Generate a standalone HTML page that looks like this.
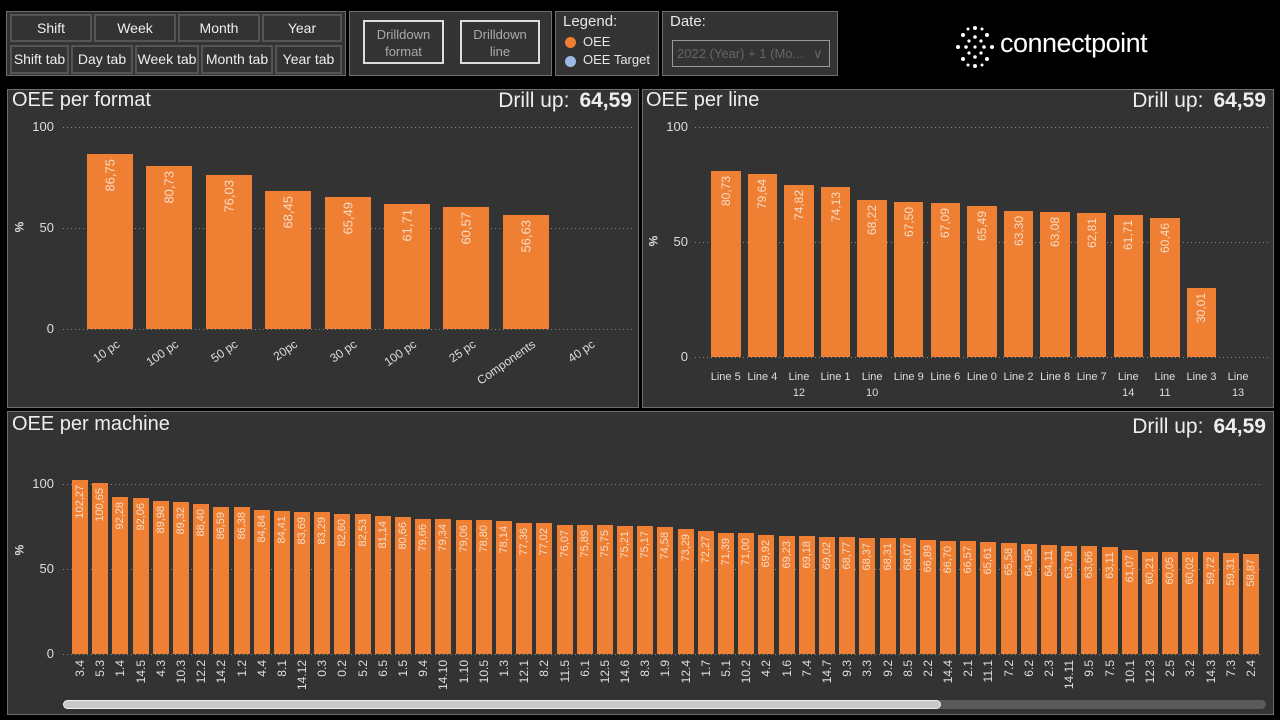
<!DOCTYPE html>
<html><head><meta charset="utf-8">
<style>
*{box-sizing:border-box;margin:0;padding:0}
body{width:1280px;height:720px;background:#000;position:relative;overflow:hidden;font-family:"Liberation Sans Narrow","Liberation Sans",sans-serif;color:#e6e6e6}
.abs{position:absolute}
.panel{position:absolute;background:#333;border:1px solid #6e6e6e}
.btn{position:absolute;background:#333;border:2px solid #555;font-size:14px;color:#eee;text-align:center;line-height:24px}
.dd{position:absolute;border:2px solid #ddd;font-size:13px;color:#aaa;text-align:center;line-height:17px;padding-top:4px}
.title{position:absolute;font-size:20px;color:#eee;white-space:nowrap}
.drill{position:absolute;font-size:21px;color:#eee;white-space:nowrap;text-align:right}
.drill b{font-weight:bold;margin-left:10px}
.grid{position:absolute;height:1px;background-image:linear-gradient(to right,#8a8a8a 1px,transparent 1px);background-size:4px 1px}
.tick{position:absolute;font-size:13px;color:#ddd;text-align:right;width:30px}
.pct{position:absolute;font-size:12px;color:#ddd;font-weight:bold;transform:rotate(-90deg)}
.chart{position:absolute;display:flex;justify-content:space-between}
.col{position:relative;height:100%}
.bar{position:absolute;bottom:0;left:0;right:0;background:#ee7f33}
.val{position:absolute;top:5px;left:50%;writing-mode:vertical-rl;transform:translateX(-50%) rotate(180deg);color:#f7dcc6;white-space:nowrap}
.cat{position:absolute;left:50%;writing-mode:vertical-rl;transform:translateX(-50%) rotate(180deg);color:#ddd;white-space:nowrap;font-size:12px}
.rcat{position:absolute;top:8px;right:50%;margin-right:-4px;white-space:nowrap;font-size:12px;color:#ddd;transform-origin:100% 0;transform:rotate(-35deg)}
.lcat{position:absolute;top:12px;left:50%;width:44px;margin-left:-22px;text-align:center;font-size:11px;line-height:16px;color:#ddd;white-space:nowrap}
</style></head><body>

<!-- top buttons -->
<div class="panel" style="left:6px;top:11px;width:340px;height:65px"></div>
<div class="btn" style="left:10px;top:14px;width:82px;height:28px">Shift</div>
<div class="btn" style="left:94px;top:14px;width:82px;height:28px">Week</div>
<div class="btn" style="left:178px;top:14px;width:82px;height:28px">Month</div>
<div class="btn" style="left:262px;top:14px;width:80px;height:28px">Year</div>
<div class="btn" style="left:10px;top:45px;width:59px;height:29px">Shift tab</div>
<div class="btn" style="left:71px;top:45px;width:62px;height:29px">Day tab</div>
<div class="btn" style="left:135px;top:45px;width:64px;height:29px">Week tab</div>
<div class="btn" style="left:201px;top:45px;width:72px;height:29px">Month tab</div>
<div class="btn" style="left:275px;top:45px;width:67px;height:29px">Year tab</div>

<div class="panel" style="left:349px;top:11px;width:203px;height:65px"></div>
<div class="dd" style="left:363px;top:20px;width:81px;height:44px">Drilldown<br>format</div>
<div class="dd" style="left:460px;top:20px;width:80px;height:44px">Drilldown<br>line</div>

<div class="panel" style="left:555px;top:11px;width:104px;height:65px"></div>
<div class="abs" style="left:563px;top:13px;font-size:15px">Legend:</div>
<div class="abs" style="left:565px;top:37px;width:11px;height:11px;border-radius:50%;background:#ee7f33"></div>
<div class="abs" style="left:583px;top:34px;font-size:13px">OEE</div>
<div class="abs" style="left:565px;top:56px;width:11px;height:11px;border-radius:50%;background:#9db8e4"></div>
<div class="abs" style="left:583px;top:52px;font-size:13px">OEE Target</div>

<div class="panel" style="left:662px;top:11px;width:176px;height:65px"></div>
<div class="abs" style="left:670px;top:13px;font-size:15px">Date:</div>
<div class="abs" style="left:672px;top:40px;width:158px;height:27px;border:1px solid #999;font-size:13px;color:#666;padding:5px 0 0 4px;white-space:nowrap">2022 (Year) + 1 (Mo... <span style="margin-left:6px">&#8744;</span></div>

<svg class="abs" style="left:950px;top:24px" width="50" height="46">
<g fill="#fff">
<circle cx="25" cy="4" r="2"/><circle cx="25" cy="42" r="2"/><circle cx="8" cy="23" r="2"/><circle cx="42" cy="23" r="2"/>
<circle cx="13" cy="11" r="2"/><circle cx="37" cy="11" r="2"/><circle cx="13" cy="35" r="2"/><circle cx="37" cy="35" r="2"/>
<circle cx="25" cy="13" r="1.8"/><circle cx="25" cy="33" r="1.8"/><circle cx="16" cy="23" r="1.8"/><circle cx="34" cy="23" r="1.8"/>
<circle cx="19" cy="17" r="1.6"/><circle cx="31" cy="17" r="1.6"/><circle cx="19" cy="29" r="1.6"/><circle cx="31" cy="29" r="1.6"/>
<circle cx="25" cy="23" r="1.6"/><circle cx="18" cy="5" r="1.5"/><circle cx="32" cy="5" r="1.5"/><circle cx="18" cy="41" r="1.5"/><circle cx="32" cy="41" r="1.5"/>
</g></svg>
<div class="abs" style="left:1000px;top:28px;font-size:27px;color:#fff;font-family:'Liberation Sans',sans-serif;letter-spacing:-0.5px">connectpoint</div>

<!-- Panel 1 -->
<div class="panel" style="left:7px;top:89px;width:632px;height:319px"></div>
<div class="title" style="left:12px;top:89px">OEE per format</div>
<div class="drill" style="right:648px;top:89px">Drill up:<b>64,59</b></div>
<div class="grid" style="left:63px;top:127px;width:570px"></div>
<div class="grid" style="left:63px;top:228px;width:570px"></div>
<div class="grid" style="left:63px;top:329px;width:570px"></div>
<div class="tick" style="left:24px;top:119px">100</div>
<div class="tick" style="left:24px;top:220px">50</div>
<div class="tick" style="left:24px;top:321px">0</div>
<div class="pct" style="left:14px;top:220px">%</div>
<div class="chart" style="left:87px;top:127px;width:521px;height:202px">
<div class="col" style="width:46px"><div class="bar" style="height:86.75%"><div class="val" style="font-size:13px">86,75</div></div><div class="rcat" style="top:210px">10 pc</div></div>
<div class="col" style="width:46px"><div class="bar" style="height:80.73%"><div class="val" style="font-size:13px">80,73</div></div><div class="rcat" style="top:210px">100 pc</div></div>
<div class="col" style="width:46px"><div class="bar" style="height:76.03%"><div class="val" style="font-size:13px">76,03</div></div><div class="rcat" style="top:210px">50 pc</div></div>
<div class="col" style="width:46px"><div class="bar" style="height:68.45%"><div class="val" style="font-size:13px">68,45</div></div><div class="rcat" style="top:210px">20pc</div></div>
<div class="col" style="width:46px"><div class="bar" style="height:65.49%"><div class="val" style="font-size:13px">65,49</div></div><div class="rcat" style="top:210px">30 pc</div></div>
<div class="col" style="width:46px"><div class="bar" style="height:61.71%"><div class="val" style="font-size:13px">61,71</div></div><div class="rcat" style="top:210px">100 pc</div></div>
<div class="col" style="width:46px"><div class="bar" style="height:60.57%"><div class="val" style="font-size:13px">60,57</div></div><div class="rcat" style="top:210px">25 pc</div></div>
<div class="col" style="width:46px"><div class="bar" style="height:56.63%"><div class="val" style="font-size:13px">56,63</div></div><div class="rcat" style="top:210px">Components</div></div>
<div class="col" style="width:46px"><div class="rcat" style="top:210px">40 pc</div></div>
</div>

<!-- Panel 2 -->
<div class="panel" style="left:642px;top:89px;width:632px;height:319px"></div>
<div class="title" style="left:646px;top:89px">OEE per line</div>
<div class="drill" style="right:14px;top:89px">Drill up:<b>64,59</b></div>
<div class="grid" style="left:695px;top:127px;width:573px"></div>
<div class="grid" style="left:695px;top:242px;width:573px"></div>
<div class="grid" style="left:695px;top:357px;width:573px"></div>
<div class="tick" style="left:658px;top:119px">100</div>
<div class="tick" style="left:658px;top:234px">50</div>
<div class="tick" style="left:658px;top:349px">0</div>
<div class="pct" style="left:648px;top:234px">%</div>
<div class="chart" style="left:711px;top:127px;width:542px;height:230px">
<div class="col" style="width:29.5px"><div class="bar" style="height:80.73%"><div class="val" style="font-size:12px">80,73</div></div><div class="lcat" style="top:242px">Line 5</div></div>
<div class="col" style="width:29.5px"><div class="bar" style="height:79.64%"><div class="val" style="font-size:12px">79,64</div></div><div class="lcat" style="top:242px">Line 4</div></div>
<div class="col" style="width:29.5px"><div class="bar" style="height:74.82%"><div class="val" style="font-size:12px">74,82</div></div><div class="lcat" style="top:242px">Line<br>12</div></div>
<div class="col" style="width:29.5px"><div class="bar" style="height:74.13%"><div class="val" style="font-size:12px">74,13</div></div><div class="lcat" style="top:242px">Line 1</div></div>
<div class="col" style="width:29.5px"><div class="bar" style="height:68.22%"><div class="val" style="font-size:12px">68,22</div></div><div class="lcat" style="top:242px">Line<br>10</div></div>
<div class="col" style="width:29.5px"><div class="bar" style="height:67.50%"><div class="val" style="font-size:12px">67,50</div></div><div class="lcat" style="top:242px">Line 9</div></div>
<div class="col" style="width:29.5px"><div class="bar" style="height:67.09%"><div class="val" style="font-size:12px">67,09</div></div><div class="lcat" style="top:242px">Line 6</div></div>
<div class="col" style="width:29.5px"><div class="bar" style="height:65.49%"><div class="val" style="font-size:12px">65,49</div></div><div class="lcat" style="top:242px">Line 0</div></div>
<div class="col" style="width:29.5px"><div class="bar" style="height:63.30%"><div class="val" style="font-size:12px">63,30</div></div><div class="lcat" style="top:242px">Line 2</div></div>
<div class="col" style="width:29.5px"><div class="bar" style="height:63.08%"><div class="val" style="font-size:12px">63,08</div></div><div class="lcat" style="top:242px">Line 8</div></div>
<div class="col" style="width:29.5px"><div class="bar" style="height:62.81%"><div class="val" style="font-size:12px">62,81</div></div><div class="lcat" style="top:242px">Line 7</div></div>
<div class="col" style="width:29.5px"><div class="bar" style="height:61.71%"><div class="val" style="font-size:12px">61,71</div></div><div class="lcat" style="top:242px">Line<br>14</div></div>
<div class="col" style="width:29.5px"><div class="bar" style="height:60.46%"><div class="val" style="font-size:12px">60,46</div></div><div class="lcat" style="top:242px">Line<br>11</div></div>
<div class="col" style="width:29.5px"><div class="bar" style="height:30.01%"><div class="val" style="font-size:12px">30,01</div></div><div class="lcat" style="top:242px">Line 3</div></div>
<div class="col" style="width:29.5px"><div class="lcat" style="top:242px">Line<br>13</div></div>
</div>

<!-- Panel 3 -->
<div class="panel" style="left:7px;top:411px;width:1267px;height:304px"></div>
<div class="title" style="left:12px;top:413px">OEE per machine</div>
<div class="drill" style="right:14px;top:415px">Drill up:<b>64,59</b></div>
<div class="grid" style="left:63px;top:484px;width:1200px"></div>
<div class="grid" style="left:63px;top:569px;width:1200px"></div>
<div class="grid" style="left:63px;top:654px;width:1200px"></div>
<div class="tick" style="left:24px;top:476px">100</div>
<div class="tick" style="left:24px;top:561px">50</div>
<div class="tick" style="left:24px;top:646px">0</div>
<div class="pct" style="left:14px;top:543px">%</div>
<div class="chart" id="m" style="left:72px;top:484px;width:1187px;height:170px;font-size:11px">
<div class="col" style="width:16px"><div class="bar" style="height:102.27%"><div class="val">102,27</div></div><div class="cat" style="top:176px">3.4</div></div>
<div class="col" style="width:16px"><div class="bar" style="height:100.65%"><div class="val">100,65</div></div><div class="cat" style="top:176px">5.3</div></div>
<div class="col" style="width:16px"><div class="bar" style="height:92.28%"><div class="val">92,28</div></div><div class="cat" style="top:176px">1.4</div></div>
<div class="col" style="width:16px"><div class="bar" style="height:92.06%"><div class="val">92,06</div></div><div class="cat" style="top:176px">14.5</div></div>
<div class="col" style="width:16px"><div class="bar" style="height:89.98%"><div class="val">89,98</div></div><div class="cat" style="top:176px">4.3</div></div>
<div class="col" style="width:16px"><div class="bar" style="height:89.32%"><div class="val">89,32</div></div><div class="cat" style="top:176px">10.3</div></div>
<div class="col" style="width:16px"><div class="bar" style="height:88.40%"><div class="val">88,40</div></div><div class="cat" style="top:176px">12.2</div></div>
<div class="col" style="width:16px"><div class="bar" style="height:86.59%"><div class="val">86,59</div></div><div class="cat" style="top:176px">14.2</div></div>
<div class="col" style="width:16px"><div class="bar" style="height:86.38%"><div class="val">86,38</div></div><div class="cat" style="top:176px">1.2</div></div>
<div class="col" style="width:16px"><div class="bar" style="height:84.84%"><div class="val">84,84</div></div><div class="cat" style="top:176px">4.4</div></div>
<div class="col" style="width:16px"><div class="bar" style="height:84.41%"><div class="val">84,41</div></div><div class="cat" style="top:176px">8.1</div></div>
<div class="col" style="width:16px"><div class="bar" style="height:83.69%"><div class="val">83,69</div></div><div class="cat" style="top:176px">14.12</div></div>
<div class="col" style="width:16px"><div class="bar" style="height:83.29%"><div class="val">83,29</div></div><div class="cat" style="top:176px">0.3</div></div>
<div class="col" style="width:16px"><div class="bar" style="height:82.60%"><div class="val">82,60</div></div><div class="cat" style="top:176px">0.2</div></div>
<div class="col" style="width:16px"><div class="bar" style="height:82.53%"><div class="val">82,53</div></div><div class="cat" style="top:176px">5.2</div></div>
<div class="col" style="width:16px"><div class="bar" style="height:81.14%"><div class="val">81,14</div></div><div class="cat" style="top:176px">6.5</div></div>
<div class="col" style="width:16px"><div class="bar" style="height:80.66%"><div class="val">80,66</div></div><div class="cat" style="top:176px">1.5</div></div>
<div class="col" style="width:16px"><div class="bar" style="height:79.66%"><div class="val">79,66</div></div><div class="cat" style="top:176px">9.4</div></div>
<div class="col" style="width:16px"><div class="bar" style="height:79.34%"><div class="val">79,34</div></div><div class="cat" style="top:176px">14.10</div></div>
<div class="col" style="width:16px"><div class="bar" style="height:79.06%"><div class="val">79,06</div></div><div class="cat" style="top:176px">1.10</div></div>
<div class="col" style="width:16px"><div class="bar" style="height:78.80%"><div class="val">78,80</div></div><div class="cat" style="top:176px">10.5</div></div>
<div class="col" style="width:16px"><div class="bar" style="height:78.14%"><div class="val">78,14</div></div><div class="cat" style="top:176px">1.3</div></div>
<div class="col" style="width:16px"><div class="bar" style="height:77.36%"><div class="val">77,36</div></div><div class="cat" style="top:176px">12.1</div></div>
<div class="col" style="width:16px"><div class="bar" style="height:77.02%"><div class="val">77,02</div></div><div class="cat" style="top:176px">8.2</div></div>
<div class="col" style="width:16px"><div class="bar" style="height:76.07%"><div class="val">76,07</div></div><div class="cat" style="top:176px">11.5</div></div>
<div class="col" style="width:16px"><div class="bar" style="height:75.89%"><div class="val">75,89</div></div><div class="cat" style="top:176px">6.1</div></div>
<div class="col" style="width:16px"><div class="bar" style="height:75.75%"><div class="val">75,75</div></div><div class="cat" style="top:176px">12.5</div></div>
<div class="col" style="width:16px"><div class="bar" style="height:75.21%"><div class="val">75,21</div></div><div class="cat" style="top:176px">14.6</div></div>
<div class="col" style="width:16px"><div class="bar" style="height:75.17%"><div class="val">75,17</div></div><div class="cat" style="top:176px">8.3</div></div>
<div class="col" style="width:16px"><div class="bar" style="height:74.58%"><div class="val">74,58</div></div><div class="cat" style="top:176px">1.9</div></div>
<div class="col" style="width:16px"><div class="bar" style="height:73.29%"><div class="val">73,29</div></div><div class="cat" style="top:176px">12.4</div></div>
<div class="col" style="width:16px"><div class="bar" style="height:72.27%"><div class="val">72,27</div></div><div class="cat" style="top:176px">1.7</div></div>
<div class="col" style="width:16px"><div class="bar" style="height:71.39%"><div class="val">71,39</div></div><div class="cat" style="top:176px">5.1</div></div>
<div class="col" style="width:16px"><div class="bar" style="height:71.00%"><div class="val">71,00</div></div><div class="cat" style="top:176px">10.2</div></div>
<div class="col" style="width:16px"><div class="bar" style="height:69.92%"><div class="val">69,92</div></div><div class="cat" style="top:176px">4.2</div></div>
<div class="col" style="width:16px"><div class="bar" style="height:69.23%"><div class="val">69,23</div></div><div class="cat" style="top:176px">1.6</div></div>
<div class="col" style="width:16px"><div class="bar" style="height:69.18%"><div class="val">69,18</div></div><div class="cat" style="top:176px">7.4</div></div>
<div class="col" style="width:16px"><div class="bar" style="height:69.02%"><div class="val">69,02</div></div><div class="cat" style="top:176px">14.7</div></div>
<div class="col" style="width:16px"><div class="bar" style="height:68.77%"><div class="val">68,77</div></div><div class="cat" style="top:176px">9.3</div></div>
<div class="col" style="width:16px"><div class="bar" style="height:68.37%"><div class="val">68,37</div></div><div class="cat" style="top:176px">3.3</div></div>
<div class="col" style="width:16px"><div class="bar" style="height:68.31%"><div class="val">68,31</div></div><div class="cat" style="top:176px">9.2</div></div>
<div class="col" style="width:16px"><div class="bar" style="height:68.07%"><div class="val">68,07</div></div><div class="cat" style="top:176px">8.5</div></div>
<div class="col" style="width:16px"><div class="bar" style="height:66.89%"><div class="val">66,89</div></div><div class="cat" style="top:176px">2.2</div></div>
<div class="col" style="width:16px"><div class="bar" style="height:66.70%"><div class="val">66,70</div></div><div class="cat" style="top:176px">14.4</div></div>
<div class="col" style="width:16px"><div class="bar" style="height:66.57%"><div class="val">66,57</div></div><div class="cat" style="top:176px">2.1</div></div>
<div class="col" style="width:16px"><div class="bar" style="height:65.61%"><div class="val">65,61</div></div><div class="cat" style="top:176px">11.1</div></div>
<div class="col" style="width:16px"><div class="bar" style="height:65.58%"><div class="val">65,58</div></div><div class="cat" style="top:176px">7.2</div></div>
<div class="col" style="width:16px"><div class="bar" style="height:64.95%"><div class="val">64,95</div></div><div class="cat" style="top:176px">6.2</div></div>
<div class="col" style="width:16px"><div class="bar" style="height:64.11%"><div class="val">64,11</div></div><div class="cat" style="top:176px">2.3</div></div>
<div class="col" style="width:16px"><div class="bar" style="height:63.79%"><div class="val">63,79</div></div><div class="cat" style="top:176px">14.11</div></div>
<div class="col" style="width:16px"><div class="bar" style="height:63.66%"><div class="val">63,66</div></div><div class="cat" style="top:176px">9.5</div></div>
<div class="col" style="width:16px"><div class="bar" style="height:63.11%"><div class="val">63,11</div></div><div class="cat" style="top:176px">7.5</div></div>
<div class="col" style="width:16px"><div class="bar" style="height:61.07%"><div class="val">61,07</div></div><div class="cat" style="top:176px">10.1</div></div>
<div class="col" style="width:16px"><div class="bar" style="height:60.21%"><div class="val">60,21</div></div><div class="cat" style="top:176px">12.3</div></div>
<div class="col" style="width:16px"><div class="bar" style="height:60.05%"><div class="val">60,05</div></div><div class="cat" style="top:176px">2.5</div></div>
<div class="col" style="width:16px"><div class="bar" style="height:60.02%"><div class="val">60,02</div></div><div class="cat" style="top:176px">3.2</div></div>
<div class="col" style="width:16px"><div class="bar" style="height:59.72%"><div class="val">59,72</div></div><div class="cat" style="top:176px">14.3</div></div>
<div class="col" style="width:16px"><div class="bar" style="height:59.31%"><div class="val">59,31</div></div><div class="cat" style="top:176px">7.3</div></div>
<div class="col" style="width:16px"><div class="bar" style="height:58.87%"><div class="val">58,87</div></div><div class="cat" style="top:176px">2.4</div></div>
</div>
<div class="abs" style="left:63px;top:700px;width:1203px;height:9px;border-radius:5px;background:#5a5a5a"></div>
<div class="abs" style="left:63px;top:700px;width:878px;height:9px;border-radius:5px;background:#c8c8c8;border:1px solid #eee"></div>
</body></html>
